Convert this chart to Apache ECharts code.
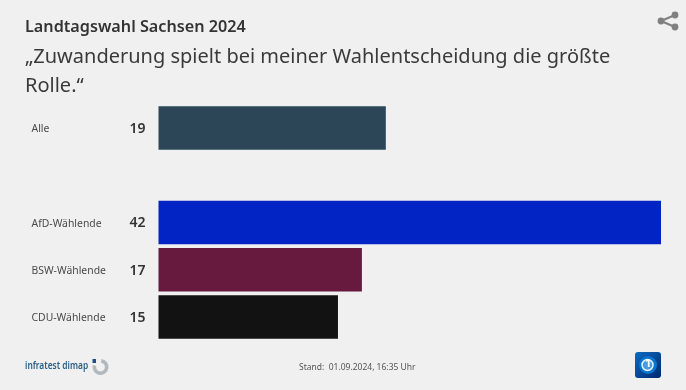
<!DOCTYPE html>
<html>
<head>
<meta charset="utf-8">
<style>
    html, body { margin: 0; padding: 0; background: #f0f0f0; }
    #chart { width: 686px; height: 390px; }
</style>
<script src="https://cdn.jsdelivr.net/npm/echarts@6/dist/echarts.min.js"></script>
</head>
<body>
<div id="chart"></div>
<script>
    // Gruppen von oben nach unten, die leere Zeile ist der Abstand nach "Alle"
    const categories = ['Alle', '', 'AfD-Wählende', 'BSW-Wählende', 'CDU-Wählende'];
    const values = [19, null, 42, 17, 15];
    const barColors = ['#2c4658', null, '#0324c4', '#671a3e', '#121212'];

    const fontName = '"Noto Sans", sans-serif';
    const chart = echarts.init(document.getElementById('chart'));

    chart.setOption({
        backgroundColor: '#f0f0f0',
        animation: false,
        title: [
            {
                text: 'Landtagswahl Sachsen 2024',
                left: 20, top: 14,
                textStyle: {fontFamily: fontName, fontSize: 16.2, fontWeight: 600, color: '#333333'}
            },
            {
                text: '„Zuwanderung spielt bei meiner Wahlentscheidung die größte\nRolle.“',
                left: 20, top: 38,
                textStyle: {fontFamily: fontName, fontSize: 20, fontWeight: 400, color: '#3a3a3a', lineHeight: 29}
            }
        ],
        grid: {left: 158.5, top: 104.4, width: 502.5, height: 236.2},
        xAxis: {type: 'value', min: 0, max: 42, show: false},
        yAxis: {
            type: 'category',
            inverse: true,
            data: categories,
            axisLine: {show: false},
            axisTick: {show: false},
            axisLabel: {
                align: 'left',
                margin: 127,
                formatter: '{name|{value}}',
                rich: {
                    name: {
                        padding: [3, 0, 0, 0],
                        fontFamily: fontName,
                        fontSize: 10.4,
                        color: '#4a4a4a'
                    }
                }
            }
        },
        series: [{
            type: 'bar',
            barWidth: 43.5,
            data: values.map((v, i) => ({value: v, itemStyle: {color: barColors[i]}})),
            label: {
                show: true,
                position: 'left',
                distance: 13,
                offset: [0, 1],
                fontFamily: fontName,
                fontSize: 14,
                fontWeight: 600,
                color: '#333333'
            }
        }],
        graphic: [
            // Teilen-Symbol
            {type: 'line', shape: {x1: 661, y1: 21, x2: 675, y2: 15}, style: {stroke: '#808080', lineWidth: 2}},
            {type: 'line', shape: {x1: 661, y1: 21, x2: 675, y2: 27}, style: {stroke: '#808080', lineWidth: 2}},
            {type: 'circle', shape: {cx: 661, cy: 21, r: 3.4}, style: {fill: '#808080'}},
            {type: 'circle', shape: {cx: 675, cy: 15, r: 3.4}, style: {fill: '#808080'}},
            {type: 'circle', shape: {cx: 675, cy: 27, r: 3.4}, style: {fill: '#808080'}},
            // infratest dimap, schmal gezogen
            {type: 'text', x: 25, y: 361, scaleX: 0.84, style: {text: 'infratest dimap', fontFamily: fontName, fontSize: 10, fontWeight: 600, fill: '#245f8a'}},
            {type: 'arc', shape: {cx: 100.5, cy: 367, r: 6.2, startAngle: -1.45, endAngle: 3.4}, style: {stroke: '#b3b8bc', lineWidth: 3.6, fill: null}},
            {type: 'rect', shape: {x: 92.5, y: 359, width: 3.5, height: 4}, style: {fill: '#1c4f86'}},
            // Stand
            {type: 'text', left: 299, top: 363, style: {text: 'Stand:  01.09.2024, 16:35 Uhr', fontFamily: fontName, fontSize: 8.5, fill: '#555555'}},
            // tagesschau-Logo
            {
                type: 'rect',
                shape: {x: 635, y: 352, width: 26, height: 26, r: 3},
                style: {
                    fill: new echarts.graphic.LinearGradient(0, 0, 1, 1, [
                        {offset: 0, color: '#0a6cc4'},
                        {offset: 1, color: '#02276e'}
                    ])
                }
            },
            {type: 'circle', shape: {cx: 648, cy: 365, r: 9}, style: {fill: '#0b74cc'}},
            {type: 'circle', shape: {cx: 647.5, cy: 365, r: 5.5}, style: {fill: '#4a9bdc', stroke: '#e6f2fb', lineWidth: 1.5}},
            {type: 'text', left: 645, top: 358, style: {text: '1', fontFamily: fontName, fontSize: 11, fontWeight: 700, fill: '#ffffff'}}
        ]
    });
</script>
</body>
</html>
